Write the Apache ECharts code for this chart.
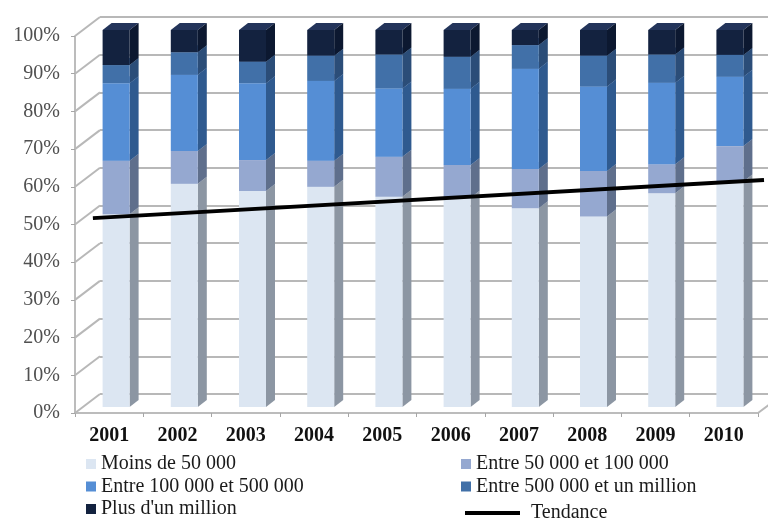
<!DOCTYPE html>
<html>
<head>
<meta charset="utf-8">
<script src="https://cdn.jsdelivr.net/npm/echarts@6/dist/echarts.min.js"></script>
<style>html,body{margin:0;padding:0;background:#fff;}#c{width:768px;height:520px;}</style>
</head>
<body>
<div id="c"></div>
<script>
const years = ['2001','2002','2003','2004','2005','2006','2007','2008','2009','2010'];
const moins50k   = [51.1, 59.2, 57.3, 58.4, 55.8, 55.5, 52.7, 50.5, 56.7, 59.8];
const e50k_100k  = [14.2,  8.7,  8.2,  6.9, 10.6,  8.7, 10.4, 12.1,  7.7,  9.4];
const e100k_500k = [20.6, 20.2, 20.4, 21.2, 18.1, 20.2, 26.6, 22.4, 21.6, 18.4];
const e500k_1m   = [ 4.8,  6.0,  5.7,  6.7,  9.0,  8.5,  6.3,  8.2,  7.5,  5.8];
const plus1m     = [ 9.3,  5.9,  8.4,  6.8,  6.5,  7.1,  4.0,  6.8,  6.5,  6.6];
const trendYears  = [2000.66, 2010.5];
const trendValues = [50.1, 60.2];
const yTicks = [0,10,20,30,40,50,60,70,80,90,100];

const names = ['Moins de 50 000','Entre 50 000 et 100 000','Entre 100 000 et 500 000','Entre 500 000 et un million',"Plus d'un million"];
const seriesData = [moins50k, e50k_100k, e100k_500k, e500k_1m, plus1m];
const fronts = ['#dce6f2','#95a8d0','#558ed5','#4170a8','#13223f'];
const sides  = ['#8c96a3','#5f6f8c','#2f5a8f','#2b4d78','#0c1830'];
const tops   = ['#e8eef7','#a9b9da','#6c9de0','#5583bb','#23345a'];

const FONT = 'Liberation Serif';
const DX = 9, DY = 7, BW = 27;

const cum = years.map(() => 0);
const barSeries = seriesData.map((arr, s) => {
  const data = arr.map((v, i) => {
    const base = cum[i];
    cum[i] += v;
    return [i, base, base + v];
  });
  return {
    name: names[s],
    type: 'custom',
    xAxisIndex: 2, yAxisIndex: 2,
    z: 10 + s,
    itemStyle: { color: fronts[s] },
    encode: { x: 0, y: [1, 2] },
    data: data,
    renderItem: function (params, api) {
      const i = api.value(0);
      const p0 = api.coord([i, api.value(1)]);
      const p1 = api.coord([i, api.value(2)]);
      const x0 = p0[0] - BW / 2, x1 = x0 + BW, yb = p0[1], yt = p1[1];
      return {
        type: 'group',
        children: [
          { type: 'polygon', shape: { points: [[x0, yt], [x1, yt], [x1 + DX, yt - DY], [x0 + DX, yt - DY]] }, style: { fill: tops[s] } },
          { type: 'polygon', shape: { points: [[x1, yb], [x1, yt], [x1 + DX, yt - DY], [x1 + DX, yb - DY]] }, style: { fill: sides[s] } },
          { type: 'rect', shape: { x: x0, y: yt, width: BW, height: yb - yt }, style: { fill: fronts[s] } }
        ]
      };
    }
  };
});

const serifRich = { fontFamily: FONT, fontSize: 20, lineHeight: 20, color: '#1a1a1a' };
const legendText = {
  fontFamily: FONT, fontSize: 20, lineHeight: 20, color: '#1a1a1a',
  rich: { s: serifRich, t: Object.assign({}, serifRich, { padding: [0, 0, 0, 6] }) }
};

const chart = echarts.init(document.getElementById('c'), null, { renderer: 'canvas' });
chart.setOption({
  animation: false,
  backgroundColor: '#ffffff',
  textStyle: { fontFamily: FONT },
  grid: [
    { left: 100, right: 0, top: 17, height: 377 },
    { left: 75, width: 683, top: 36, height: 377 },
    { left: 82, width: 682, top: 30, height: 377 }
  ],
  xAxis: [
    { gridIndex: 0, type: 'value', show: false, min: 0, max: 1 },
    { gridIndex: 1, type: 'category', data: years, boundaryGap: true,
      axisLine: { show: true, lineStyle: { color: '#a6a6a6', width: 1.5 } },
      axisTick: { show: true, interval: 0, length: 4, lineStyle: { color: '#a6a6a6' } },
      axisLabel: { interval: 0, margin: 13, fontFamily: FONT, fontSize: 20, fontWeight: 'bold', color: '#111' } },
    { gridIndex: 2, type: 'category', data: years, show: false },
    { gridIndex: 2, type: 'value', show: false, min: 2000.5, max: 2010.5 }
  ],
  yAxis: [
    { gridIndex: 0, type: 'value', min: 0, max: 100, interval: 10,
      axisLine: { show: false }, axisTick: { show: false }, axisLabel: { show: false },
      splitLine: { show: true, lineStyle: { color: '#b8b8b8', width: 2 } } },
    { gridIndex: 1, type: 'value', min: 0, max: 100, interval: 10,
      axisLine: { show: true, lineStyle: { color: '#a6a6a6', width: 1.5 } },
      axisTick: { show: true, length: 4, lineStyle: { color: '#a6a6a6' } },
      splitLine: { show: false },
      axisLabel: { formatter: '{value}%', margin: 15, fontFamily: FONT, fontSize: 20, color: '#505050' } },
    { gridIndex: 2, type: 'value', min: 0, max: 100, show: false },
    { gridIndex: 2, type: 'value', min: 0, max: 100, show: false }
  ],
  legend: [
    { orient: 'vertical', left: 86, top: 454, padding: 0, itemWidth: 10, itemHeight: 10, itemGap: 2.5,
      icon: 'rect', selectedMode: false, textStyle: legendText, formatter: '{s|{name}}',
      data: [names[0], names[2], names[4]] },
    { orient: 'vertical', left: 461, top: 454, padding: 0, itemWidth: 10, itemHeight: 10, itemGap: 2.5,
      icon: 'rect', selectedMode: false, textStyle: legendText, formatter: '{s|{name}}',
      data: [names[1], names[3]] },
    { orient: 'vertical', left: 465, top: 503, padding: 0, itemWidth: 55, itemHeight: 4,
      icon: 'rect', selectedMode: false, textStyle: legendText, formatter: '{t|{name}}',
      data: ['Tendance'] }
  ],
  series: [
    {
      type: 'custom', silent: true, xAxisIndex: 1, yAxisIndex: 1, z: 1,
      encode: { x: 0, y: 1 },
      data: yTicks.map(v => [0, v]),
      renderItem: function (params, api) {
        const cs = params.coordSys;
        const y = api.coord([0, api.value(1)])[1];
        const ls = { stroke: '#b8b8b8', lineWidth: 2 };
        const kids = [{ type: 'line', shape: { x1: cs.x, y1: y, x2: cs.x + 25, y2: y - 19 }, style: ls }];
        if (api.value(1) === 0) {
          kids.push({ type: 'line', shape: { x1: cs.x + cs.width, y1: y, x2: cs.x + cs.width + 25, y2: y - 19 }, style: ls });
        }
        return { type: 'group', children: kids };
      }
    },
    ...barSeries,
    {
      name: 'Tendance', type: 'line', xAxisIndex: 3, yAxisIndex: 3, z: 30,
      symbol: 'none', itemStyle: { color: '#000' },
      lineStyle: { color: '#000', width: 4 },
      data: trendYears.map((x, k) => [x, trendValues[k]])
    }
  ]
});
</script>
</body>
</html>
